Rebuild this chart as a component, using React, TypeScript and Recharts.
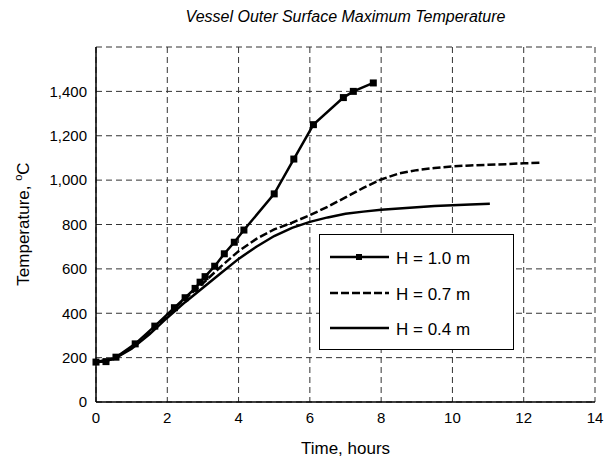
import React from "react";
import { LineChart, Line, XAxis, YAxis, CartesianGrid } from "recharts";

// H = 1.0 m (with markers)
const h10Time = [0, 0.28, 0.56, 1.1, 1.65, 2.2, 2.5, 2.78, 2.92, 3.06, 3.33, 3.6, 3.88, 4.15, 5.0, 5.55, 6.1, 6.94, 7.22, 7.78];
const h10Temp = [180, 182, 202, 262, 342, 425, 470, 512, 540, 565, 612, 668, 720, 775, 938, 1095, 1250, 1372, 1400, 1438];

// H = 0.7 m (dashed)
const h07Time = [0, 0.5, 1, 1.5, 2, 2.5, 3, 3.5, 4, 4.5, 5, 5.5, 6, 6.5, 7, 7.5, 8, 8.5, 9, 9.5, 10, 10.5, 11, 11.5, 12, 12.45];
const h07Temp = [180, 195, 245, 310, 390, 465, 535, 610, 680, 735, 778, 808, 842, 880, 922, 965, 1003, 1030, 1045, 1055, 1062, 1066, 1069, 1072, 1076, 1078];

// H = 0.4 m (solid)
const h04Time = [0, 0.5, 1, 1.5, 2, 2.5, 3, 3.5, 4, 4.5, 5, 5.5, 6, 6.5, 7, 7.5, 8, 8.5, 9, 9.5, 10, 10.5, 11.05];
const h04Temp = [180, 193, 240, 305, 380, 450, 515, 580, 645, 700, 748, 785, 812, 832, 848, 858, 866, 872, 878, 883, 887, 890, 893];

const xTicks = [0, 2, 4, 6, 8, 10, 12, 14];
const yTicks = [0, 200, 400, 600, 800, 1000, 1200, 1400, 1600];
const seriesNames = ["H = 1.0 m", "H = 0.7 m", "H = 0.4 m"];

const zip = (ts: number[], vs: number[]) => ts.map((t, i) => ({ t, T: vs[i] }));
const h10 = zip(h10Time, h10Temp);
const h07 = zip(h07Time, h07Temp);
const h04 = zip(h04Time, h04Temp);

const FONT = "'Liberation Sans', Arial, sans-serif";

const SquareDot = (props: any) => {
  const { cx, cy } = props;
  if (cx == null || cy == null) return null;
  return <rect x={cx - 3.5} y={cy - 3.5} width={7} height={7} fill="#000" />;
};

const LegendBox = () => (
  <div
    style={{
      position: "absolute",
      left: 319,
      top: 234,
      width: 195,
      height: 116,
      border: "1px solid #000",
      background: "#fff",
      boxSizing: "border-box",
      fontFamily: FONT,
    }}
  >
    <svg width={193} height={114} style={{ position: "absolute", left: 0, top: 0 }}>
      <line x1={10} x2={69} y1={22} y2={22} stroke="#000" strokeWidth={2.5} />
      <rect x={36} y={19} width={6} height={6} fill="#000" />
      <line x1={10} x2={69} y1={58} y2={58} stroke="#000" strokeWidth={2.5} strokeDasharray="8 3" />
      <line x1={10} x2={69} y1={93} y2={93} stroke="#000" strokeWidth={2.5} />
      {seriesNames.map((n, i) => (
        <text key={n} x={76} y={29 + i * 35.5} fontSize={17} fill="#000" fontFamily={FONT}>
          {n}
        </text>
      ))}
    </svg>
  </div>
);

const YLabel = () => (
  <text
    transform="translate(29,224) rotate(-90)"
    textAnchor="middle"
    fontSize={17}
    fontFamily={FONT}
    fill="#000"
  >
    Temperature,{" "}
    <tspan fontSize={11} dy={-7}>o</tspan>
    <tspan dy={7}>C</tspan>
  </text>
);

export default function App() {
  return (
    <div style={{ position: "absolute", left: 0, top: 0, width: 608, height: 461, background: "#fff" }}>
      <div
        style={{
          position: "absolute",
          left: 96,
          width: 499,
          top: 8,
          textAlign: "center",
          fontFamily: FONT,
          fontStyle: "italic",
          fontSize: 16,
          color: "#000",
        }}
      >
        Vessel Outer Surface Maximum Temperature
      </div>
      <LineChart
        width={608}
        height={461}
        margin={{ top: 47, right: 13, left: 36, bottom: 29 }}
        style={{ fontFamily: FONT, position: "absolute", left: 0, top: 0 }}
      >
        <CartesianGrid stroke="#333" strokeDasharray="6 4" strokeWidth={1} />
        <XAxis
          dataKey="t"
          type="number"
          domain={[0, 14]}
          ticks={xTicks}
          allowDuplicatedCategory={false}
          stroke="#000"
          strokeWidth={1.5}
          tickLine={false}
          height={30}
          tick={{ fill: "#000", fontSize: 15, fontFamily: FONT }}
          tickMargin={4}
          label={{ value: "Time, hours", position: "insideBottom", offset: -22, fill: "#000", fontSize: 17, fontFamily: FONT }}
        />
        <XAxis
          xAxisId="top"
          orientation="top"
          type="number"
          domain={[0, 14]}
          ticks={xTicks}
          height={0}
          tick={false}
          tickLine={false}
          stroke="#000"
          strokeWidth={1.5}
        />
        <YAxis
          type="number"
          domain={[0, 1600]}
          ticks={yTicks}
          width={60}
          stroke="#000"
          strokeWidth={1.5}
          tickLine={false}
          tickMargin={3}
          tick={{ fill: "#000", fontSize: 15, fontFamily: FONT }}
          tickFormatter={(v: number) => (v === 1600 ? "" : v.toLocaleString("en-US"))}
          label={<YLabel />}
        />
        <YAxis
          yAxisId="right"
          orientation="right"
          type="number"
          domain={[0, 1600]}
          ticks={yTicks}
          width={0}
          tick={false}
          tickLine={false}
          stroke="#000"
          strokeWidth={2}
        />
        <Line
          data={h04}
          dataKey="T"
          name={seriesNames[2]}
          stroke="#000"
          strokeWidth={2.5}
          dot={false}
          type="linear"
          isAnimationActive={false}
        />
        <Line
          data={h07}
          dataKey="T"
          name={seriesNames[1]}
          stroke="#000"
          strokeWidth={2.5}
          strokeDasharray="8 3"
          dot={false}
          type="linear"
          isAnimationActive={false}
        />
        <Line
          data={h10}
          dataKey="T"
          name={seriesNames[0]}
          stroke="#000"
          strokeWidth={2.5}
          dot={<SquareDot />}
          type="linear"
          isAnimationActive={false}
        />
      </LineChart>
      <LegendBox />
    </div>
  );
}
